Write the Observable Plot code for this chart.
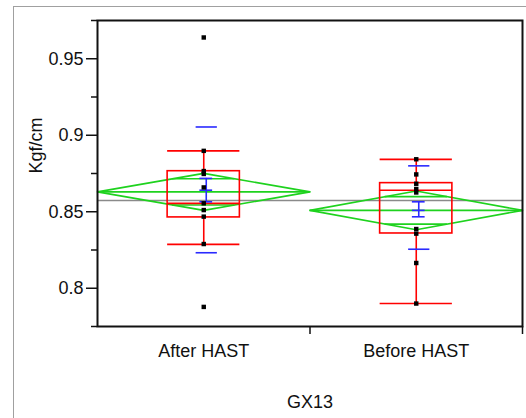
<!DOCTYPE html>
<html><head><meta charset="utf-8">
<script src="https://cdn.jsdelivr.net/npm/d3@7"></script>
<script src="https://cdn.jsdelivr.net/npm/@observablehq/plot@0.6"></script>
<style>
body{margin:0;background:#fff;}
#wrap{position:relative;width:526px;height:418px;overflow:hidden;background:#fff;}
#border{position:absolute;left:13px;top:6px;width:600px;height:600px;border:1px solid #a0a0a0;box-sizing:border-box;}
#chart{position:absolute;left:0;top:0;}
</style></head><body>
<div id="wrap"><div id="border"></div><div id="chart"></div></div>
<script>
// ---- data ----
const groups = ["After HAST", "Before HAST"];
const afterValues  = [0.9639, 0.8898, 0.8766, 0.8747, 0.8659, 0.8555, 0.8511, 0.8468, 0.8289, 0.7878];
const beforeValues = [0.8843, 0.8744, 0.8683, 0.8649, 0.8626, 0.8387, 0.8357, 0.8165, 0.7900];
const q1Values      = [0.8463, 0.8358];
const medianValues  = [0.8555, 0.8641];
const q3Values      = [0.8765, 0.8687];
const whiskerLow    = [0.8287, 0.7900];
const whiskerHigh   = [0.8898, 0.8842];
const diamondMean   = [0.8630, 0.8509];
const diamondHalf   = [0.0121, 0.0127];
const errBarLow     = [0.8565, 0.8467];
const errBarMid     = [0.8641, 0.8509];
const errBarHigh    = [0.8718, 0.8565];
const sdLow         = [0.8232, 0.8255];
const sdHigh        = [0.9054, 0.8800];
const grandMean     = 0.8573;
const yTicks        = [0.8, 0.85, 0.9, 0.95];
const yMinorTicks   = [0.775, 0.825, 0.875, 0.925, 0.975];
const xTitle = "GX13";
const yTitle = "Kgf/cm";

// ---- derived tables ----
const RED = "#ff0000", GREEN = "#1ed21e", BLUE = "#2a2aff";
const center = i => i + 0.5;
const points = [
  ...afterValues.map(v => ({g: 0, v})),
  ...beforeValues.map(v => ({g: 1, v}))
];
const idx = groups.map((_, i) => i);
const boxHalf = 0.17;
const diamondPts = idx.flatMap(i => [
  {g: i, x: i,           y: diamondMean[i]},
  {g: i, x: center(i),   y: diamondMean[i] + diamondHalf[i]},
  {g: i, x: i + 1,       y: diamondMean[i]},
  {g: i, x: center(i),   y: diamondMean[i] - diamondHalf[i]},
  {g: i, x: i,           y: diamondMean[i]}
]);
const k = Math.SQRT1_2;
const overlap = idx.flatMap(i => [1, -1].map(s => ({
  y: diamondMean[i] + s * k * diamondHalf[i],
  x1: center(i) - 0.5 * (1 - k), x2: center(i) + 0.5 * (1 - k)
})));
const hSeg = (vals, half) => idx.map(i => ({y: vals[i], x1: center(i) - half, x2: center(i) + half}));

const chart = Plot.plot({
  width: 526, height: 418,
  marginLeft: 97, marginRight: 4, marginTop: 20, marginBottom: 92,
  style: {fontFamily: "'Liberation Sans', Arial, sans-serif", fontSize: "18px", background: "transparent", color: "#111"},
  x: {domain: [0, 2], axis: null},
  y: {domain: [0.775, 0.975], axis: null},
  marks: [
    Plot.ruleY([grandMean], {stroke: "#8a8a8a", strokeWidth: 1.5}),
    // means diamonds
    Plot.line(diamondPts, {x: "x", y: "y", z: "g", stroke: GREEN, strokeWidth: 1.6}),
    Plot.ruleY(idx, {y: i => diamondMean[i], x1: i => i, x2: i => i + 1, stroke: GREEN, strokeWidth: 1.6}),
    Plot.ruleY(overlap, {y: "y", x1: "x1", x2: "x2", stroke: GREEN, strokeWidth: 1.6}),
    // box plots
    Plot.rect(idx, {x1: i => center(i) - boxHalf, x2: i => center(i) + boxHalf, y1: i => q1Values[i], y2: i => q3Values[i], fill: "none", stroke: RED, strokeWidth: 1.6}),
    Plot.ruleY(hSeg(medianValues, boxHalf), {y: "y", x1: "x1", x2: "x2", stroke: RED, strokeWidth: 1.6}),
    Plot.ruleY(hSeg(whiskerLow, boxHalf), {y: "y", x1: "x1", x2: "x2", stroke: RED, strokeWidth: 1.6}),
    Plot.ruleY(hSeg(whiskerHigh, boxHalf), {y: "y", x1: "x1", x2: "x2", stroke: RED, strokeWidth: 1.6}),
    Plot.ruleX(idx, {x: i => center(i), y1: i => q3Values[i], y2: i => whiskerHigh[i], stroke: RED, strokeWidth: 1.6}),
    Plot.ruleX(idx, {x: i => center(i), y1: i => whiskerLow[i], y2: i => q1Values[i], stroke: RED, strokeWidth: 1.6}),
    // std dev lines
    Plot.ruleY(hSeg(sdLow, 0.05), {y: "y", x1: "x1", x2: "x2", dx: 3, stroke: BLUE, strokeWidth: 1.6}),
    Plot.ruleY(hSeg(sdHigh, 0.05), {y: "y", x1: "x1", x2: "x2", dx: 3, stroke: BLUE, strokeWidth: 1.6}),
    // mean error bars
    Plot.ruleX(idx, {x: i => center(i), y1: i => errBarLow[i], y2: i => errBarHigh[i], dx: 2.5, stroke: BLUE, strokeWidth: 1.6}),
    Plot.ruleY(hSeg(errBarLow, 0.03), {y: "y", x1: "x1", x2: "x2", dx: 2.5, stroke: BLUE, strokeWidth: 1.6}),
    Plot.ruleY(hSeg(errBarMid, 0.03), {y: "y", x1: "x1", x2: "x2", dx: 2.5, stroke: BLUE, strokeWidth: 1.6}),
    Plot.ruleY(hSeg(errBarHigh, 0.03), {y: "y", x1: "x1", x2: "x2", dx: 2.5, stroke: BLUE, strokeWidth: 1.6}),
    // data points
    Plot.dot(points, {x: d => center(d.g), y: "v", symbol: "square", r: 2.5, fill: "#000", stroke: "none"}),
    // frame and axes
    Plot.frame({stroke: "#111", strokeWidth: 2}),
    Plot.axisY({ticks: yTicks, tickSize: 11, tickPadding: 3, tickFormat: d => String(+d.toFixed(2)), label: null, stroke: "#111", strokeWidth: 1.5, fill: "#111"}),
    Plot.axisY({ticks: yMinorTicks, tickSize: 6, tickFormat: () => "", label: null, stroke: "#111", strokeWidth: 1.5}),
    Plot.axisX({ticks: [1, 2], tickSize: 8, tickFormat: () => "", label: null, stroke: "#111", strokeWidth: 1.5}),
    Plot.axisX({ticks: idx.map(center), tickSize: 0, tickPadding: 18, tickFormat: d => groups[Math.floor(d)], label: null, fill: "#111"}),
    Plot.text([yTitle], {text: d => d, frameAnchor: "left", lineAnchor: "middle", dx: -61, rotate: -90, fill: "#111"}),
    Plot.text([xTitle], {text: d => d, frameAnchor: "bottom", lineAnchor: "middle", dy: 76, fill: "#111"})
  ]
});
document.getElementById("chart").appendChild(chart);
</script>
</body></html>
